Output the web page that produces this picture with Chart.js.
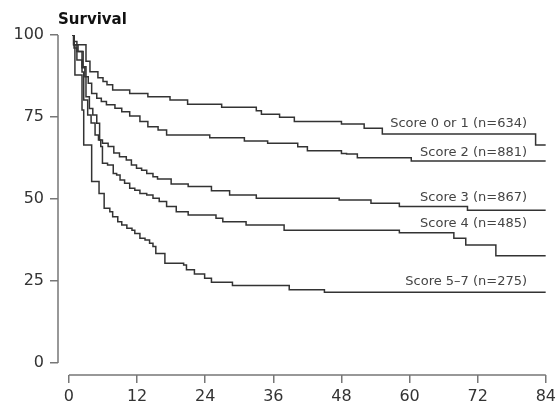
<!DOCTYPE html>
<html>
<head>
<meta charset="utf-8">
<script src="https://cdn.jsdelivr.net/npm/chart.js@4"></script>
<style>
  html, body { margin: 0; padding: 0; background: #fff; }
</style>
</head>
<body>
<canvas id="myChart" width="560" height="405"></canvas>
<script>
// axis ticks
const xTicks = [0, 12, 24, 36, 48, 60, 72, 84];
const yTicks = [0, 25, 50, 75, 100];

// survival curves (months, % surviving)
const score01Months = [0.6, 0.9, 3.0, 3.7, 5.1, 6.0, 6.7, 7.7, 10.7, 13.9, 17.8, 20.9, 26.9, 33.0, 33.9, 37.1, 39.7, 48.0, 52.0, 55.2, 82.2, 84];
const score01Surv   = [100, 97, 92, 88.8, 87, 85.8, 84.8, 83.2, 82.2, 81.2, 80.2, 78.9, 78, 76.9, 75.8, 74.9, 73.6, 72.9, 71.6, 69.8, 66.5, 66.5];

const score2Months = [0.6, 0.9, 1.4, 2.3, 2.8, 3.4, 4.0, 4.9, 5.7, 6.6, 8.1, 9.3, 10.7, 12.5, 13.9, 15.7, 17.2, 24.8, 30.9, 35.0, 40.3, 42.0, 48.0, 48.9, 50.8, 60.3, 84];
const score2Surv   = [100, 98, 95, 90, 87.3, 85.3, 82.2, 80.7, 79.7, 78.7, 77.7, 76.6, 75.3, 73.6, 72.0, 71.0, 69.5, 68.7, 67.7, 67.0, 65.9, 64.7, 63.9, 63.7, 62.6, 61.6, 61.6];

const score3Months = [0.6, 0.9, 1.6, 2.5, 3.0, 3.6, 4.2, 4.9, 5.4, 5.9, 6.9, 7.9, 8.9, 10.1, 11.0, 11.9, 12.8, 13.7, 14.8, 15.6, 18.0, 21.0, 25.1, 28.3, 33.0, 47.6, 53.2, 58.2, 70.2, 84];
const score3Surv   = [100, 97, 95, 90.3, 81.2, 77.6, 75.6, 73.1, 68.0, 67.0, 66.0, 64.0, 62.9, 61.9, 60.4, 59.4, 58.8, 57.8, 56.8, 56.1, 54.6, 53.8, 52.5, 51.2, 50.2, 49.7, 48.7, 47.7, 46.6, 46.6];

const score4Months = [0.6, 0.9, 1.4, 2.3, 2.6, 3.3, 3.9, 4.6, 5.2, 5.6, 5.9, 6.8, 7.8, 8.4, 9.0, 9.8, 10.7, 11.6, 12.5, 13.7, 14.8, 15.9, 17.2, 18.9, 21.0, 25.9, 27.1, 31.2, 37.9, 58.2, 67.8, 69.9, 75.2, 84];
const score4Surv   = [100, 96, 92.4, 88.7, 80.2, 75.6, 73.2, 69.5, 68.0, 66.0, 60.9, 60.4, 57.8, 57.3, 55.8, 54.8, 53.3, 52.7, 51.7, 51.2, 50.2, 49.2, 47.7, 46.1, 45.1, 44.1, 43.1, 42.1, 40.5, 39.7, 38.0, 36.0, 32.7, 32.7];

const score57Months = [0.6, 0.8, 1.05, 2.3, 2.6, 4.0, 5.3, 6.2, 7.2, 7.7, 8.6, 9.3, 10.2, 11.1, 11.6, 12.5, 13.4, 14.2, 14.8, 15.3, 16.9, 20.2, 20.7, 22.1, 23.9, 25.1, 28.8, 38.8, 45.0, 84];
const score57Surv   = [100, 97, 87.8, 77.1, 66.5, 55.3, 51.7, 47.2, 46.1, 44.6, 43.1, 42.1, 41.1, 40.5, 39.5, 38.0, 37.5, 36.5, 35.5, 33.4, 30.4, 29.9, 28.4, 27.1, 25.8, 24.6, 23.6, 22.3, 21.6, 21.6];

// curve labels and where they sit (month of right edge, survival %)
const curveNames = ['Score 0 or 1 (n=634)', 'Score 2 (n=881)', 'Score 3 (n=867)', 'Score 4 (n=485)', 'Score 5\u20137 (n=275)'];
const labelMonth = 80.7;
const labelSurv = [73.1, 64.1, 50.5, 42.6, 24.8];

const toPoints = (months, surv) => months.map((m, i) => ({ x: m, y: surv[i] }));
const series = [
  toPoints(score01Months, score01Surv),
  toPoints(score2Months, score2Surv),
  toPoints(score3Months, score3Surv),
  toPoints(score4Months, score4Surv),
  toPoints(score57Months, score57Surv)
];

Chart.defaults.font.family = "'DejaVu Sans', sans-serif";

const decor = {
  id: 'decor',
  afterDraw(chart) {
    const { ctx, chartArea, scales: { x, y } } = chart;
    ctx.save();
    // axis lines only over the data range
    ctx.strokeStyle = '#777';
    ctx.lineWidth = 1.5;
    ctx.beginPath();
    ctx.moveTo(chartArea.left, y.getPixelForValue(100));
    ctx.lineTo(chartArea.left, y.getPixelForValue(0));
    ctx.moveTo(x.getPixelForValue(0), chartArea.bottom);
    ctx.lineTo(x.getPixelForValue(84), chartArea.bottom);
    ctx.stroke();

    // title
    ctx.fillStyle = '#111';
    ctx.font = "bold 15px 'DejaVu Sans'";
    ctx.textAlign = 'left';
    ctx.textBaseline = 'middle';
    ctx.fillText('Survival', chartArea.left, 20);

    // curve labels
    ctx.fillStyle = '#444';
    ctx.font = "13px 'DejaVu Sans'";
    ctx.textAlign = 'right';
    curveNames.forEach((name, i) => {
      ctx.fillText(name, x.getPixelForValue(labelMonth), y.getPixelForValue(labelSurv[i]));
    });
    ctx.restore();
  }
};

new Chart(document.getElementById('myChart'), {
  type: 'line',
  data: {
    datasets: series.map(pts => ({
      data: pts,
      stepped: 'before',
      borderColor: '#333',
      borderWidth: 1.5,
      pointRadius: 0,
      fill: false
    }))
  },
  options: {
    responsive: false,
    animation: false,
    layout: { padding: { top: 35, right: 13, left: 0, bottom: 0 } },
    plugins: {
      legend: { display: false },
      tooltip: { enabled: false }
    },
    scales: {
      x: {
        type: 'linear',
        min: -1.93,
        max: 84,
        afterBuildTicks: s => { s.ticks = xTicks.map(v => ({ value: v })); },
        afterFit: s => { s.height = 30; },
        grid: { drawOnChartArea: false, drawTicks: true, tickLength: 8, tickColor: '#777', lineWidth: 1.5 },
        border: { display: false },
        ticks: { color: '#333', font: { size: 16 }, padding: 4, maxRotation: 0 }
      },
      y: {
        min: -3.66,
        max: 100,
        afterBuildTicks: s => { s.ticks = yTicks.map(v => ({ value: v })); },
        afterFit: s => { s.width = 58; },
        grid: { drawOnChartArea: false, drawTicks: true, tickLength: 8, tickColor: '#777', lineWidth: 1.5 },
        border: { display: false },
        ticks: { color: '#333', font: { size: 16 }, padding: 6 }
      }
    }
  },
  plugins: [decor]
});
</script>
</body>
</html>
